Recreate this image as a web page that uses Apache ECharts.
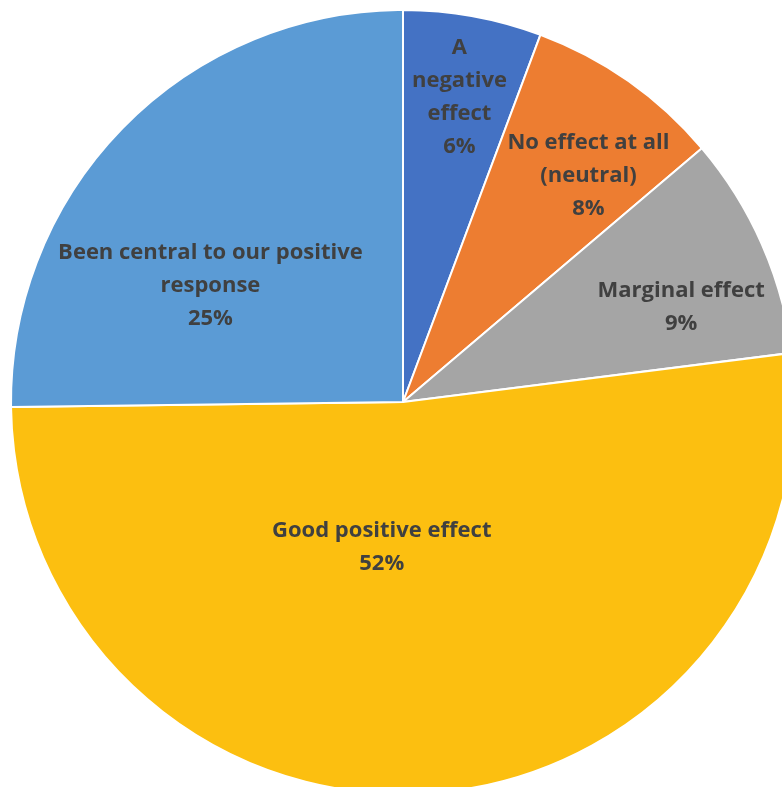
<!DOCTYPE html>
<html>
<head>
<meta charset="utf-8">
<script src="https://cdn.jsdelivr.net/npm/echarts@6/dist/echarts.min.js"></script>
<style>
  html, body { margin: 0; padding: 0; background: #fff; }
  #pie { width: 782px; height: 787px; }
</style>
</head>
<body>
<div id="pie"></div>
<script>
// slice names and shares (labels show them rounded)
const names = [
  'A\nnegative\neffect',
  'No effect at all\n(neutral)',
  'Marginal effect',
  'Good positive effect',
  'Been central to our positive\nresponse'
];
const values = [5.7, 8.1, 9.2, 51.8, 25.2];
const colors = ['#4472C4', '#ED7D31', '#A5A5A5', '#FCBF10', '#5B9BD5'];

// nudges from the default inside label spot
const labelOffsets = [[21, -109], [71, -63], [96, -15], [-35, -53], [-51, 24]];

let pieData = [];
names.forEach((n, i) => {
  pieData.push({
    name: n,
    value: values[i],
    itemStyle: { color: colors[i] },
    label: { offset: labelOffsets[i] }
  });
});

let myChart = echarts.init(document.getElementById('pie'));

let option = {
  animation: false,
  series: [
    {
      type: 'pie',
      center: [403, 402],
      radius: [0, 392],
      startAngle: 90,
      clockwise: true,
      itemStyle: {
        borderColor: '#fff',
        borderWidth: 2
      },
      label: {
        show: true,
        position: 'inside',
        formatter: p => p.name + '\n' + Math.round(p.value) + '%',
        color: '#404040',
        fontFamily: 'Open Sans',
        fontWeight: 'bold',
        fontSize: 22,
        lineHeight: 33,
        align: 'center'
      },
      labelLine: { show: false },
      data: pieData
    }
  ]
};

myChart.setOption(option);
</script>
</body>
</html>
